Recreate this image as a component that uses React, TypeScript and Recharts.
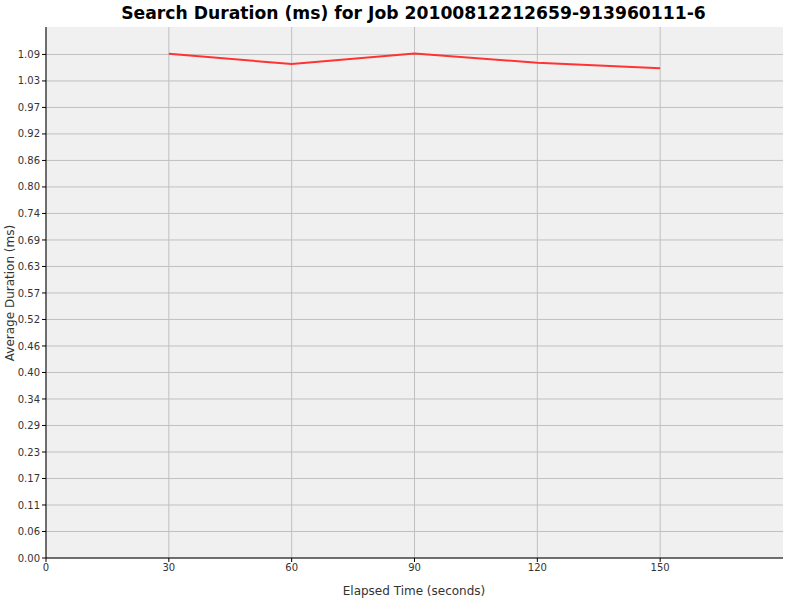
import React from "react"
import { CartesianGrid, Line, LineChart, XAxis, YAxis } from "recharts"

// Elapsed time (seconds) and average search duration (ms)
const ELAPSED = [30, 60, 90, 120, 150]
const DURATION = [1.09, 1.068, 1.0908, 1.0705, 1.059]

const X_TICKS = [0, 30, 60, 90, 120, 150]
// JFreeChart-style tick step of ~0.0573
const Y_TICKS = [
  0, 0.0573, 0.1146, 0.1719, 0.2292, 0.2865, 0.3438, 0.4011, 0.4584, 0.5157, 0.573, 0.6303,
  0.6876, 0.7449, 0.8022, 0.8595, 0.9168, 0.9741, 1.0314, 1.0887,
]

const TITLE = "Search Duration (ms) for Job 20100812212659-913960111-6"
const X_LABEL = "Elapsed Time (seconds)"
const Y_LABEL = "Average Duration (ms)"

const FONT = "'DejaVu Sans', sans-serif"

export default function App(): React.JSX.Element {
  const data = ELAPSED.map((t, i) => ({ t, d: DURATION[i] }))

  return (
    <div style={{ position: "absolute", left: 0, top: 0, width: 800, height: 600, background: "#fff", fontFamily: FONT }}>
      <div
        style={{
          position: "absolute",
          left: 45,
          width: 737,
          top: 3,
          textAlign: "center",
          fontSize: 17.2,
          fontWeight: "bold",
          color: "#000",
        }}
      >
        {TITLE}
      </div>
      <LineChart width={800} height={600} data={data} margin={{ top: 27, right: 17, left: 0, bottom: 0 }}>
        <CartesianGrid stroke="#c0c0c0" fill="#f0f0f0" strokeWidth={1} syncWithTicks />
        <XAxis
          dataKey="t"
          type="number"
          domain={[0, 180]}
          ticks={X_TICKS}
          height={42}
          stroke="#000"
          tickSize={4}
          tick={{ fill: "#333", fontSize: 10, fontFamily: FONT }}
          label={{
            content: () => (
              <text x={414} y={595} textAnchor="middle" fontSize={12} fill="#333" fontFamily={FONT}>
                {X_LABEL}
              </text>
            ),
          }}
        />
        <YAxis
          type="number"
          domain={[0, 1.148]}
          ticks={Y_TICKS}
          width={46}
          stroke="#000"
          tickSize={4}
          tick={{ fill: "#333", fontSize: 10, fontFamily: FONT }}
          tickFormatter={(v: number) => v.toFixed(2)}
          label={{
            content: () => (
              <text
                x={14}
                y={293}
                transform="rotate(-90 14 293)"
                textAnchor="middle"
                fontSize={12}
                fill="#333"
                fontFamily={FONT}
              >
                {Y_LABEL}
              </text>
            ),
          }}
        />
        <Line
          type="linear"
          dataKey="d"
          stroke="#ff3333"
          strokeWidth={2}
          dot={false}
          isAnimationActive={false}
        />
      </LineChart>
    </div>
  )
}
